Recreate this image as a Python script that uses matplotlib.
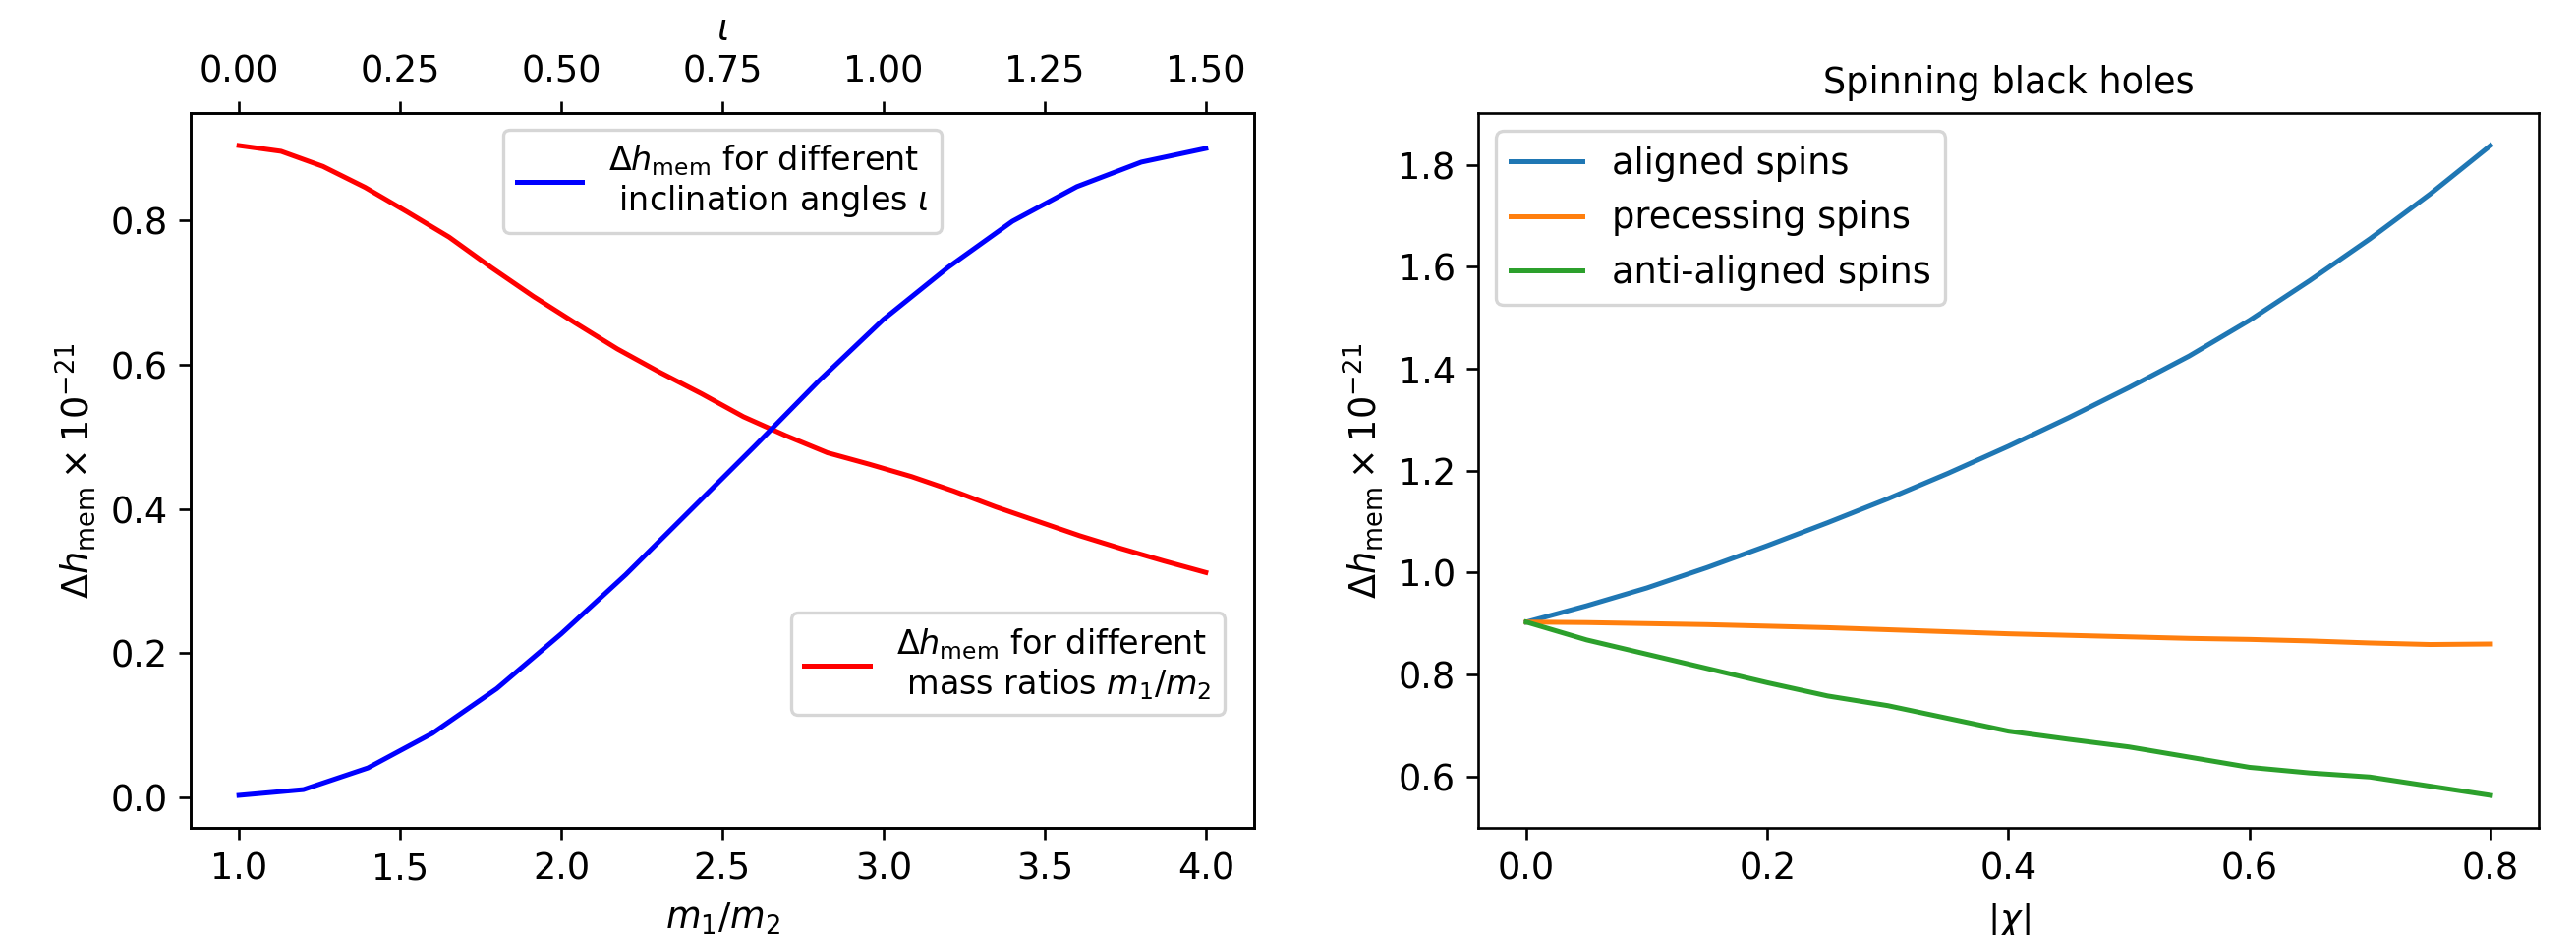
import numpy as np
import matplotlib
matplotlib.use("Agg")
import matplotlib.pyplot as plt

# ---- data: left panel ----
mass_ratio = np.linspace(1.0, 4.0, 24)
h_mass = [0.904, 0.896, 0.875, 0.846, 0.812, 0.777, 0.735, 0.695, 0.658,
          0.622, 0.590, 0.560, 0.528, 0.502, 0.478, 0.462, 0.445, 0.425,
          0.403, 0.383, 0.363, 0.345, 0.328, 0.312]
iota = np.round(np.arange(0, 1.51, 0.1), 2)
h_iota = [0.003, 0.011, 0.041, 0.089, 0.151, 0.227, 0.309, 0.398, 0.487,
          0.578, 0.663, 0.735, 0.799, 0.847, 0.881, 0.900]

# ---- data: right panel ----
chi = np.round(np.arange(0, 0.801, 0.05), 2)
h_aligned = [0.903, 0.935, 0.970, 1.010, 1.053, 1.098, 1.145, 1.195, 1.248,
             1.304, 1.363, 1.425, 1.495, 1.573, 1.655, 1.743, 1.838]
h_precessing = [0.903, 0.902, 0.900, 0.898, 0.895, 0.892, 0.888, 0.884, 0.880,
                0.877, 0.874, 0.871, 0.869, 0.866, 0.862, 0.859, 0.860]
h_anti = [0.903, 0.868, 0.840, 0.812, 0.784, 0.758, 0.739, 0.714, 0.689,
          0.673, 0.658, 0.638, 0.618, 0.607, 0.599, 0.581, 0.563]

plt.rcParams['font.size'] = 11

W, H = 2621, 951
dpi = 240
fig = plt.figure(figsize=(W / dpi, H / dpi), dpi=dpi)

ylab = r'$\Delta h_{\rm mem} \times 10^{-21}$'

ax1 = fig.add_axes([194 / W, 1 - 842 / H, 1082 / W, 727 / H])
l_red, = ax1.plot(mass_ratio, h_mass, color='red',
                  label='$\\Delta h_{\\rm mem}$ for different\n mass ratios $m_1/m_2$')
ax1.set_xlabel('$m_1/m_2$')
ax1.set_ylabel(ylab)
ax1.set_xticks([1.0, 1.5, 2.0, 2.5, 3.0, 3.5, 4.0])
ax1.legend(loc='lower right', bbox_to_anchor=(0.972, 0.158), borderaxespad=0,
           fontsize=10)

ax1t = ax1.twiny()
ax1t.plot(iota, h_iota, color='blue',
          label='$\\Delta h_{\\rm mem}$ for different\n inclination angles $\\iota$')
ax1t.set_xlabel('$\\iota$')
ax1t.set_xticks([0.0, 0.25, 0.5, 0.75, 1.0, 1.25, 1.5])
ax1t.legend(loc='upper center', fontsize=10)

ax2 = fig.add_axes([1504 / W, 1 - 842 / H, 1079 / W, 727 / H])
ax2.plot(chi, h_aligned, label='aligned spins')
ax2.plot(chi, h_precessing, label='precessing spins')
ax2.plot(chi, h_anti, label='anti-aligned spins')
ax2.set_xlabel(r'$|\chi|$')
ax2.set_ylabel(ylab)
ax2.set_title('Spinning black holes', fontsize=11)
ax2.set_xticks([0.0, 0.2, 0.4, 0.6, 0.8])
ax2.legend(loc='upper left')

fig.savefig('out.png', dpi=dpi)
